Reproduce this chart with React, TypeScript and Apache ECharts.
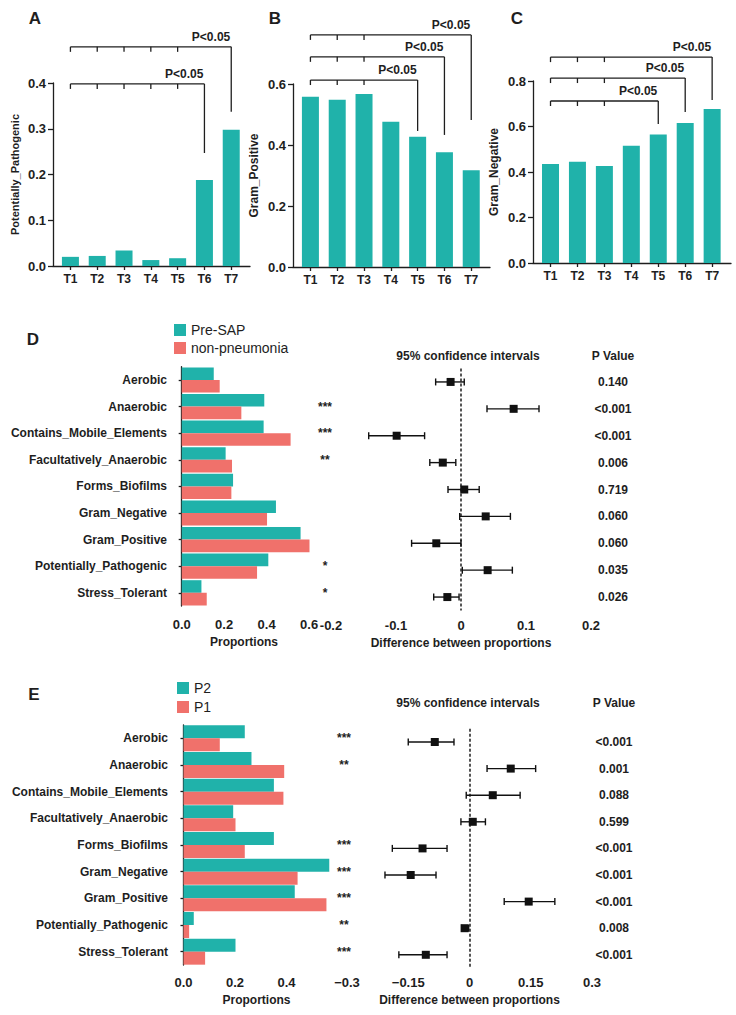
import React, { useEffect, useRef } from "react";
import * as echarts from "echarts";

const FONT = '"Liberation Sans", Arial, Helvetica, sans-serif';
const TEAL = "#20B2AA";
const RED = "#F0716B";
const INK = "#1e1e1e";

// ---------- Panels A-C ----------
const timepoints = ["T1", "T2", "T3", "T4", "T5", "T6", "T7"];
const pathogenicA = [0.02, 0.022, 0.034, 0.013, 0.017, 0.188, 0.298];
const gramPositiveB = [0.558, 0.548, 0.567, 0.476, 0.427, 0.376, 0.317];
const gramNegativeC = [0.435, 0.445, 0.426, 0.515, 0.565, 0.615, 0.677];
// [end timepoint, bracket level, drop-to level, number of start ticks]
const bracketsA = [
  [7, 0.479, 0.337, 5],
  [6, 0.398, 0.247, 5],
];
const bracketsB = [
  [7, 0.761, 0.482, 3],
  [6, 0.689, 0.433, 3],
  [5, 0.613, 0.446, 3],
];
const bracketsC = [
  [7, 0.905, 0.716, 3],
  [6, 0.813, 0.664, 3],
  [5, 0.712, 0.611, 3],
];

// ---------- Panels D-E ----------
const traits = [
  "Aerobic",
  "Anaerobic",
  "Contains_Mobile_Elements",
  "Facultatively_Anaerobic",
  "Forms_Biofilms",
  "Gram_Negative",
  "Gram_Positive",
  "Potentially_Pathogenic",
  "Stress_Tolerant",
];
const preSAP = [0.151, 0.389, 0.386, 0.207, 0.242, 0.444, 0.56, 0.408, 0.093];
const nonPneumonia = [0.179, 0.281, 0.513, 0.237, 0.234, 0.402, 0.602, 0.355, 0.118];
const starsD = ["", "***", "***", "**", "", "", "", "*", "*"];
const diffD = [-0.016, 0.081, -0.099, -0.028, 0.005, 0.038, -0.038, 0.041, -0.021];
const lowD = [-0.039, 0.04, -0.142, -0.048, -0.02, -0.002, -0.076, 0.002, -0.042];
const highD = [0.005, 0.12, -0.056, -0.008, 0.028, 0.076, 0.0, 0.079, -0.003];
const pValuesD = ["0.140", "<0.001", "<0.001", "0.006", "0.719", "0.060", "0.060", "0.035", "0.026"];

const p2 = [0.238, 0.264, 0.351, 0.193, 0.351, 0.566, 0.432, 0.04, 0.202];
const p1 = [0.141, 0.391, 0.388, 0.202, 0.238, 0.443, 0.555, 0.022, 0.084];
const starsE = ["***", "**", "", "", "***", "***", "***", "**", "***"];
const diffE = [-0.085, 0.101, 0.057, 0.008, -0.115, -0.144, 0.145, -0.012, -0.107];
const lowE = [-0.15, 0.043, -0.008, -0.021, -0.189, -0.207, 0.085, -0.019, -0.173];
const highE = [-0.038, 0.162, 0.124, 0.039, -0.055, -0.082, 0.209, -0.002, -0.055];
const pValuesE = ["<0.001", "0.001", "0.088", "0.599", "<0.001", "<0.001", "<0.001", "0.008", "<0.001"];

const lineStyle = { color: INK, width: 1.3 };
const boldLabel = (size: number) => ({
  fontFamily: FONT,
  fontWeight: "bold" as const,
  fontSize: size,
  color: INK,
});

function bracketRender(_params: any, api: any) {
  const end = api.value(0);
  const level = api.value(1);
  const drop = api.value(2);
  const nt = api.value(3);
  const p1c = api.coord([1, level]);
  const pe = api.coord([end, level]);
  const yd = api.coord([end, drop])[1];
  const st = { stroke: INK, lineWidth: 1.3 };
  const children: any[] = [
    { type: "line", shape: { x1: p1c[0], y1: p1c[1], x2: pe[0], y2: pe[1] }, style: st },
    { type: "line", shape: { x1: pe[0], y1: pe[1], x2: pe[0], y2: yd }, style: st },
  ];
  for (let i = 1; i <= nt; i++) {
    const x = api.coord([i, level])[0];
    children.push({ type: "line", shape: { x1: x, y1: p1c[1], x2: x, y2: p1c[1] + 5 }, style: st });
  }
  children.push({
    type: "text",
    style: {
      text: "P<0.05",
      x: pe[0] - 1,
      y: pe[1] - 4,
      textAlign: "right",
      textVerticalAlign: "bottom",
      fontFamily: FONT,
      fontWeight: "bold",
      fontSize: 12,
      fill: INK,
    },
  });
  return { type: "group", children };
}

function forestRender(_params: any, api: any) {
  const idx = api.value(0);
  const a = api.coord([api.value(1), idx]);
  const b = api.coord([api.value(2), idx]);
  const y = a[1];
  const h = 3.5;
  const st = { stroke: "#111", lineWidth: 1.4 };
  return {
    type: "group",
    children: [
      { type: "line", shape: { x1: a[0], y1: y, x2: b[0], y2: y }, style: st },
      { type: "line", shape: { x1: a[0], y1: y - h, x2: a[0], y2: y + h }, style: st },
      { type: "line", shape: { x1: b[0], y1: y - h, x2: b[0], y2: y + h }, style: st },
    ],
  };
}

function topXAxis(grid: number) {
  return {
    gridIndex: grid,
    type: "value",
    min: 0.35,
    max: 7.7,
    splitLine: { show: false },
    axisLine: { lineStyle },
    axisTick: { customValues: [1, 2, 3, 4, 5, 6, 7], length: 4, lineStyle },
    axisLabel: {
      customValues: [1, 2, 3, 4, 5, 6, 7],
      formatter: (v: number) => timepoints[Math.round(v) - 1],
      margin: 7,
      ...boldLabel(12),
    },
  };
}

function topYAxis(grid: number, max: number, interval: number, name: string, nameSize: number) {
  return {
    gridIndex: grid,
    type: "value",
    min: 0,
    max,
    interval,
    name,
    nameLocation: "middle",
    nameGap: 33,
    nameTextStyle: boldLabel(nameSize),
    splitLine: { show: false },
    axisLine: { show: true, lineStyle },
    axisTick: { show: true, length: 5, lineStyle },
    axisLabel: { formatter: (v: number) => v.toFixed(1), margin: 7, ...boldLabel(13) },
  };
}

function catAxis(grid: number) {
  return {
    gridIndex: grid,
    type: "category",
    inverse: true,
    data: traits,
    axisLine: { show: true, lineStyle },
    axisTick: { show: true, length: 3, alignWithLabel: true, lineStyle },
    axisLabel: { interval: 0, margin: 8, ...boldLabel(12) },
  };
}

function sideAxis(grid: number, labels: string[], margin: number, size: number) {
  return {
    gridIndex: grid,
    type: "category",
    inverse: true,
    position: "right",
    data: labels,
    axisLine: { show: false },
    axisTick: { show: false },
    axisLabel: { interval: 0, margin, align: "center", ...boldLabel(size) },
  };
}

function hiddenCat(grid: number) {
  return { gridIndex: grid, type: "category", inverse: true, data: traits, show: false };
}

function forestX(grid: number, ticks: number[], fmt: (v: number) => string, offset: number) {
  return {
    gridIndex: grid,
    type: "value",
    min: ticks[0],
    max: ticks[ticks.length - 1],
    offset,
    splitLine: { show: false },
    axisLine: { lineStyle },
    axisTick: { customValues: ticks, length: 4, lineStyle },
    axisLabel: { customValues: ticks, formatter: fmt, margin: 8, ...boldLabel(13) },
    name: "Difference between proportions",
    nameLocation: "middle",
    nameGap: 26,
    nameTextStyle: boldLabel(12),
  };
}

function propX(grid: number, min: number, max: number, ticks: number[], offset: number) {
  return {
    gridIndex: grid,
    type: "value",
    min,
    max,
    offset,
    splitLine: { show: false },
    axisLine: { lineStyle },
    axisTick: { customValues: ticks, length: 4, lineStyle },
    axisLabel: { customValues: ticks, formatter: (v: number) => v.toFixed(1), margin: 8, ...boldLabel(13) },
    name: "Proportions",
    nameLocation: "middle",
    nameGap: 26,
    nameTextStyle: boldLabel(12),
  };
}

function dashedZero() {
  return {
    silent: true,
    symbol: ["none", "none"],
    label: { show: false },
    lineStyle: { type: [3, 2], color: INK, width: 1.5 },
    data: [{ xAxis: 0 }],
  };
}

const text = (t: string, x: number, y: number, size: number) => ({
  type: "text",
  x,
  y,
  style: {
    text: t,
    textAlign: "center",
    textVerticalAlign: "middle",
    fontFamily: FONT,
    fontWeight: "bold",
    fontSize: size,
    fill: INK,
  },
});

export default function App() {
  const ref = useRef<HTMLDivElement>(null);
  useEffect(() => {
    if (!ref.current) return;
    const chart = echarts.init(ref.current, undefined, { renderer: "svg" });
    const option: any = {
      animation: false,
      backgroundColor: "#ffffff",
      textStyle: { fontFamily: FONT },
      grid: [
        { left: 53, top: 83, width: 197, height: 183 },
        { left: 293, top: 84, width: 197, height: 183 },
        { left: 533, top: 81, width: 198, height: 182 },
        { left: 175, top: 366.7, width: 138, height: 239.4 },
        { left: 331, top: 368.5, width: 260, height: 242 },
        { left: 176, top: 725, width: 161, height: 240 },
        { left: 347, top: 728.7, width: 245, height: 239.4 },
      ],
      xAxis: [
        topXAxis(0),
        topXAxis(1),
        topXAxis(2),
        propX(3, -0.0315, 0.6185, [0, 0.2, 0.4, 0.6], 4),
        forestX(4, [-0.2, -0.1, 0, 0.1, 0.2], (v) => String(Math.round(v * 10) / 10), 0),
        propX(5, -0.029, 0.596, [0, 0.2, 0.4], 3),
        forestX(
          6,
          [-0.3, -0.15, 0, 0.15, 0.3],
          (v) => {
            const r = Math.round(v * 100) / 100;
            return (r < 0 ? "\u2212" : "") + String(Math.abs(r));
          },
          0
        ),
      ],
      yAxis: [
        topYAxis(0, 0.4, 0.1, "Potentially_Pathogenic", 11),
        topYAxis(1, 0.6, 0.2, "Gram_Positive", 12),
        topYAxis(2, 0.8, 0.2, "Gram_Negative", 12),
        catAxis(3),
        sideAxis(3, starsD, 12, 12),
        hiddenCat(4),
        sideAxis(4, pValuesD, 22, 12),
        catAxis(5),
        sideAxis(5, starsE, 7, 12),
        hiddenCat(6),
        sideAxis(6, pValuesE, 22, 12),
      ],
      legend: [
        {
          data: ["Pre-SAP", "non-pneumonia"],
          orient: "vertical",
          left: 169,
          top: 318,
          icon: "rect",
          itemWidth: 12,
          itemHeight: 12,
          itemGap: 4,
          textStyle: { fontFamily: FONT, fontSize: 14, color: INK },
        },
        {
          data: ["P2", "P1"],
          orient: "vertical",
          left: 172,
          top: 676,
          icon: "rect",
          itemWidth: 12,
          itemHeight: 12,
          itemGap: 5,
          textStyle: { fontFamily: FONT, fontSize: 14, color: INK },
        },
      ],
      graphic: [
        text("A", 35, 18, 17),
        text("B", 275, 18, 17),
        text("C", 517, 18, 17),
        text("D", 33, 339, 17),
        text("E", 34, 694, 17),
        text("95% confidence intervals", 468, 356, 12),
        text("P Value", 613, 356, 12),
        text("95% confidence intervals", 468, 703, 12),
        text("P Value", 614, 703, 12),
      ],
      series: [
        {
          type: "bar",
          xAxisIndex: 0,
          yAxisIndex: 0,
          barWidth: 17,
          itemStyle: { color: TEAL },
          data: pathogenicA.map((v, i) => [i + 1, v]),
        },
        {
          type: "custom",
          xAxisIndex: 0,
          yAxisIndex: 0,
          renderItem: bracketRender,
          encode: { x: 0, y: [1, 2] },
          data: bracketsA,
          clip: false,
          z: 5,
        },
        {
          type: "bar",
          xAxisIndex: 1,
          yAxisIndex: 1,
          barWidth: 17,
          itemStyle: { color: TEAL },
          data: gramPositiveB.map((v, i) => [i + 1, v]),
        },
        {
          type: "custom",
          xAxisIndex: 1,
          yAxisIndex: 1,
          renderItem: bracketRender,
          encode: { x: 0, y: [1, 2] },
          data: bracketsB,
          clip: false,
          z: 5,
        },
        {
          type: "bar",
          xAxisIndex: 2,
          yAxisIndex: 2,
          barWidth: 17,
          itemStyle: { color: TEAL },
          data: gramNegativeC.map((v, i) => [i + 1, v]),
        },
        {
          type: "custom",
          xAxisIndex: 2,
          yAxisIndex: 2,
          renderItem: bracketRender,
          encode: { x: 0, y: [1, 2] },
          data: bracketsC,
          clip: false,
          z: 5,
        },
        // Panel D
        {
          name: "Pre-SAP",
          type: "bar",
          xAxisIndex: 3,
          yAxisIndex: 3,
          barWidth: 12.6,
          barGap: "0%",
          itemStyle: { color: TEAL },
          data: preSAP,
        },
        {
          name: "non-pneumonia",
          type: "bar",
          xAxisIndex: 3,
          yAxisIndex: 3,
          barWidth: 12.6,
          barGap: "0%",
          itemStyle: { color: RED },
          data: nonPneumonia,
        },
        {
          type: "custom",
          xAxisIndex: 4,
          yAxisIndex: 5,
          renderItem: forestRender,
          encode: { x: [1, 2], y: 0 },
          data: traits.map((_, i) => [i, lowD[i], highD[i]]),
          z: 5,
        },
        {
          type: "scatter",
          xAxisIndex: 4,
          yAxisIndex: 5,
          symbol: "rect",
          symbolSize: 8,
          itemStyle: { color: "#111", opacity: 1 },
          data: diffD.map((v, i) => [v, i]),
          markLine: dashedZero(),
          z: 6,
        },
        // Panel E
        {
          name: "P2",
          type: "bar",
          xAxisIndex: 5,
          yAxisIndex: 7,
          barWidth: 13,
          barGap: "0%",
          itemStyle: { color: TEAL },
          data: p2,
        },
        {
          name: "P1",
          type: "bar",
          xAxisIndex: 5,
          yAxisIndex: 7,
          barWidth: 13,
          barGap: "0%",
          itemStyle: { color: RED },
          data: p1,
        },
        {
          type: "custom",
          xAxisIndex: 6,
          yAxisIndex: 9,
          renderItem: forestRender,
          encode: { x: [1, 2], y: 0 },
          data: traits.map((_, i) => [i, lowE[i], highE[i]]),
          z: 5,
        },
        {
          type: "scatter",
          xAxisIndex: 6,
          yAxisIndex: 9,
          symbol: "rect",
          symbolSize: 8,
          itemStyle: { color: "#111", opacity: 1 },
          data: diffE.map((v, i) => [v, i]),
          markLine: dashedZero(),
          z: 6,
        },
      ],
    };
    chart.setOption(option);
    return () => chart.dispose();
  }, []);
  return (
    <div
      ref={ref}
      style={{ position: "fixed", left: 0, top: 0, width: 736, height: 1015, background: "#fff" }}
    />
  );
}
